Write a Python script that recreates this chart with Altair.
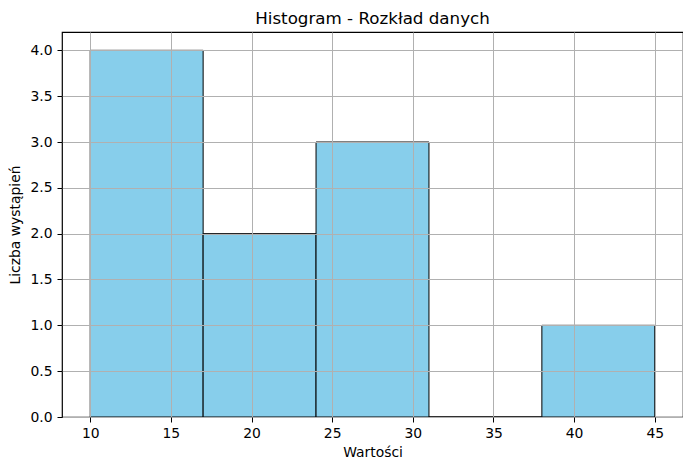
import altair as alt
import pandas as pd

bin_start = [10, 17, 24, 31, 38]
bin_end = [17, 24, 31, 38, 45]
counts = [4, 2, 3, 0, 1]
x_ticks = [10, 15, 20, 25, 30, 35, 40, 45]
y_ticks = [0.0, 0.5, 1.0, 1.5, 2.0, 2.5, 3.0, 3.5, 4.0]

df = pd.DataFrame({"start": bin_start, "end": bin_end, "count": counts, "base": [0] * 5})

font = "DejaVu Sans"
fs = 13.9

x_axis = alt.Axis(values=x_ticks, grid=True, gridColor="#b0b0b0", gridWidth=1,
                  domain=False, tickColor="black", tickSize=5, labelFontSize=fs,
                  labelColor="black", labelFont=font, titleFont=font, titleFontSize=fs,
                  titleFontWeight="normal", titleColor="black", titlePadding=6,
                  labelPadding=4, zindex=1)
y_axis = alt.Axis(values=y_ticks, format=".1f", grid=True, gridColor="#b0b0b0", gridWidth=1,
                  domain=False, tickColor="black", tickSize=5, labelFontSize=fs,
                  labelColor="black", labelFont=font, titleFont=font, titleFontSize=fs,
                  titleFontWeight="normal", titleColor="black", titlePadding=7,
                  labelPadding=5, zindex=1)

bars = alt.Chart(df).mark_rect(fill="#87ceeb", stroke="black", strokeWidth=1).encode(
    x=alt.X("start:Q", scale=alt.Scale(domain=[8.25, 46.75], nice=False, zero=False),
            axis=x_axis, title="Wartości"),
    x2="end:Q",
    y=alt.Y("count:Q", scale=alt.Scale(domain=[0, 4.2], nice=False), axis=y_axis,
            title="Liczba wystąpień"),
    y2="base:Q",
)

chart = bars.properties(
    width=621, height=385,
    title=alt.TitleParams("Histogram - Rozkład danych", font=font, fontSize=16.7,
                          fontWeight="normal", color="black", offset=4, anchor="middle"),
    autosize=alt.AutoSizeParams(type="none"),
    padding={"left": 54, "top": 24, "right": 0, "bottom": 45},
).configure_view(stroke="black", strokeWidth=1.2)

chart.save("out.html", embed_options={"renderer": "svg", "actions": False})
